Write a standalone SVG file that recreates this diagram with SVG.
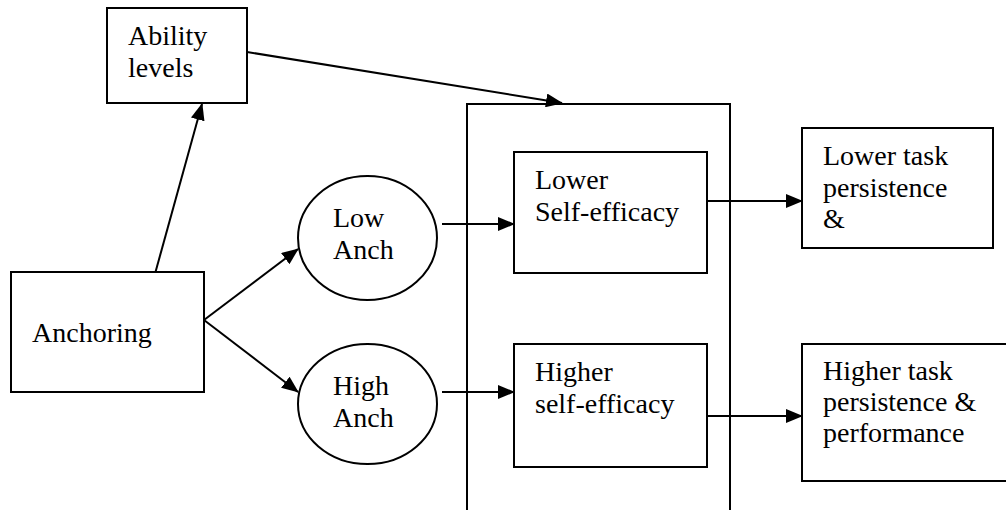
<svg xmlns="http://www.w3.org/2000/svg" width="1006" height="510" viewBox="0 0 1006 510">
<style>
.box{fill:#fff;stroke:#000;stroke-width:2}
.t{font-family:"Liberation Serif","Times New Roman",serif;font-size:28px;fill:#000}
.c{stroke:#000;stroke-width:2;fill:none}
</style>
<defs>
<marker id="ah" markerUnits="userSpaceOnUse" markerWidth="17" markerHeight="14" refX="16" refY="7" orient="auto">
<path d="M0,0 L17,7 L0,14 Z" fill="#000"/>
</marker>
</defs>
<rect width="1006" height="510" fill="#fff"/>
<g id="container"><path class="c" d="M467,520 V104 H730 V520"/></g>
<g id="ability"><rect class="box" x="107" y="8" width="140" height="95"/><text class="t" x="128" y="45">Ability</text><text class="t" x="128" y="77">levels</text></g>
<g id="anchoring"><rect class="box" x="11" y="272" width="193" height="120"/><text class="t" x="32" y="342">Anchoring</text></g>
<g id="lowanch"><ellipse class="box" cx="367.5" cy="238" rx="69.5" ry="62"/><text class="t" x="333" y="227">Low</text><text class="t" x="333" y="259">Anch</text></g>
<g id="highanch"><ellipse class="box" cx="367.5" cy="404" rx="69.5" ry="60"/><text class="t" x="333" y="395">High</text><text class="t" x="333" y="427">Anch</text></g>
<g id="lowerse"><rect class="box" x="514" y="152" width="193" height="121"/><text class="t" x="535" y="189">Lower</text><text class="t" x="535" y="221">Self-efficacy</text></g>
<g id="higherse"><rect class="box" x="514" y="344" width="193" height="123"/><text class="t" x="535" y="381">Higher</text><text class="t" x="535" y="413">self-efficacy</text></g>
<g id="lowertask"><rect class="box" x="802" y="128" width="191" height="120"/><text class="t" x="823" y="165">Lower task</text><text class="t" x="823" y="197">persistence</text><text class="t" x="823" y="228">&amp;</text></g>
<g id="highertask"><rect class="box" x="802" y="344" width="206" height="137"/><text class="t" x="823" y="380">Higher task</text><text class="t" x="823" y="411">persistence &amp;</text><text class="t" x="823" y="442">performance</text></g>
<g id="connectors">
<line class="c" x1="155.5" y1="272" x2="202" y2="104" marker-end="url(#ah)"/>
<line class="c" x1="247" y1="52" x2="562" y2="103" marker-end="url(#ah)"/>
<line class="c" x1="204" y1="320" x2="298" y2="249" marker-end="url(#ah)"/>
<line class="c" x1="204" y1="320" x2="298" y2="392" marker-end="url(#ah)"/>
<line class="c" x1="442" y1="224" x2="514" y2="224" marker-end="url(#ah)"/>
<line class="c" x1="442" y1="392" x2="514" y2="392" marker-end="url(#ah)"/>
<line class="c" x1="707" y1="201" x2="802" y2="201" marker-end="url(#ah)"/>
<line class="c" x1="707" y1="416" x2="802" y2="416" marker-end="url(#ah)"/>
</g>
</svg>
